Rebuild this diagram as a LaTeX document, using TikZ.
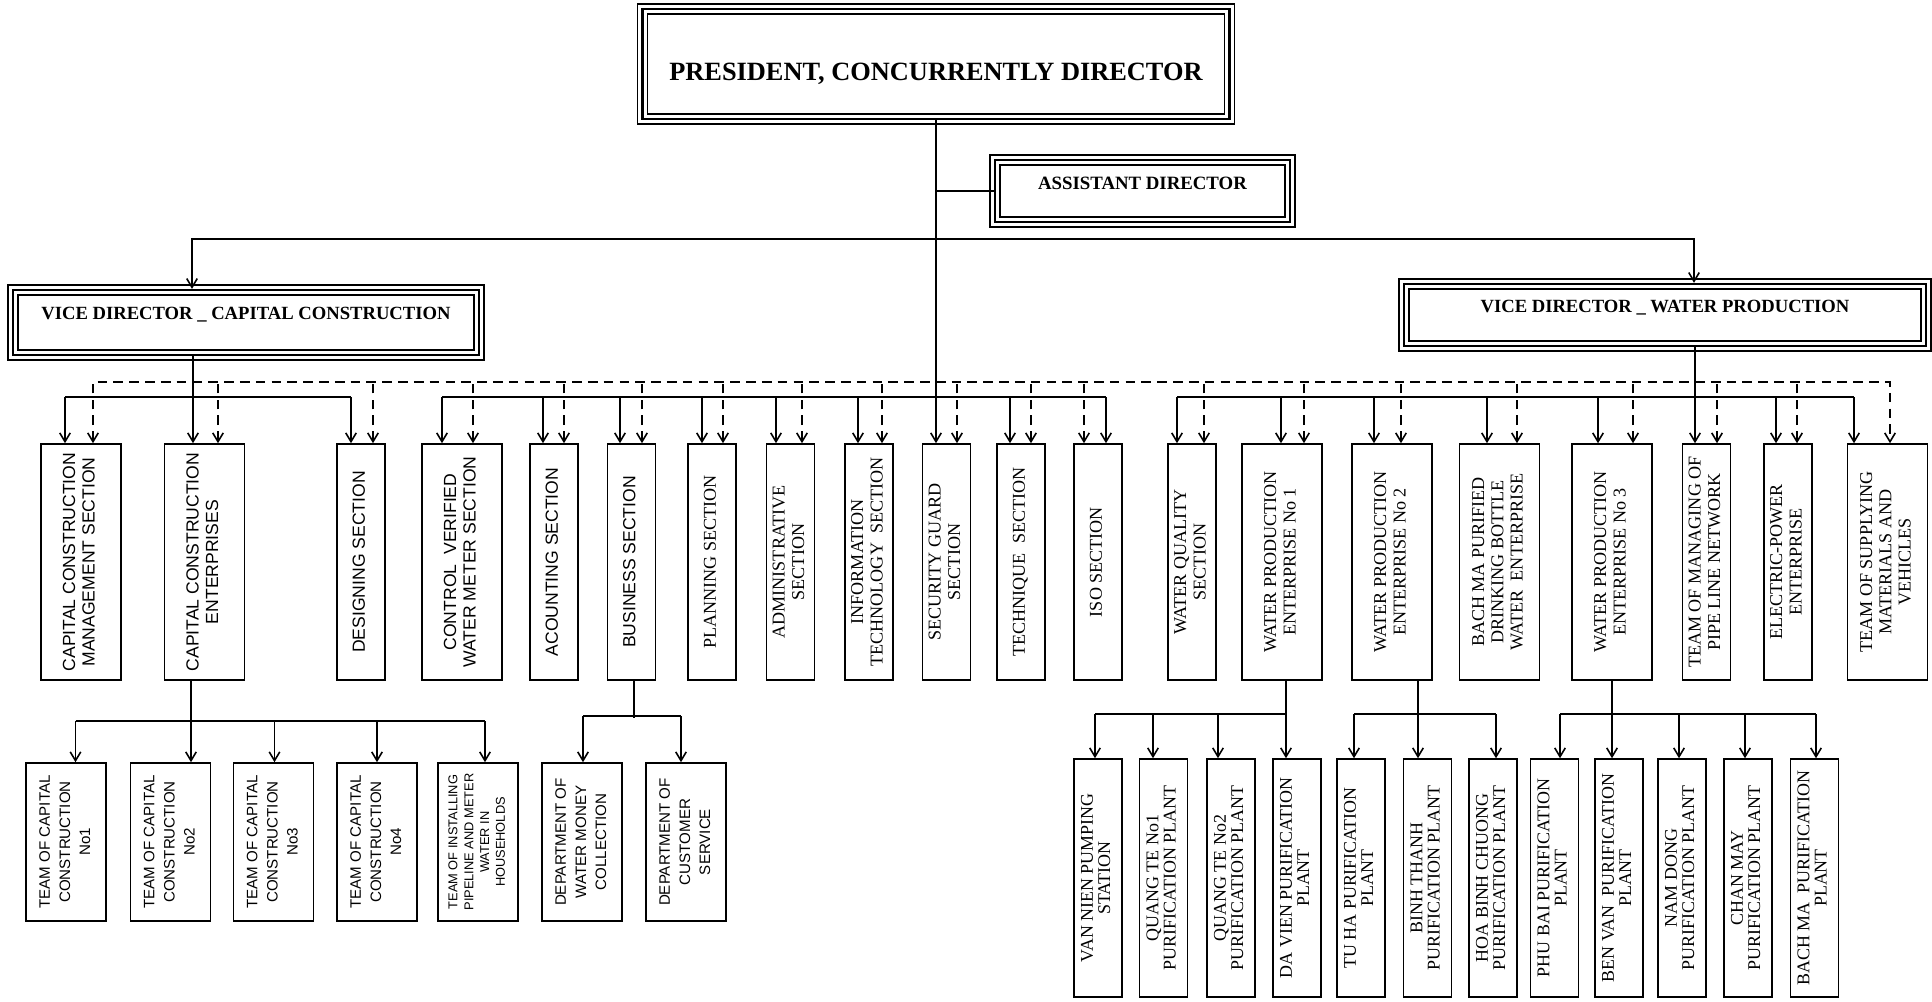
\documentclass[tikz,border=0pt]{standalone}
\usepackage{fontspec}
\setmainfont{Liberation Serif}
\setsansfont{Liberation Sans}
\usepackage{graphicx}
\usetikzlibrary{calc,arrows.meta}
\newcommand{\rottext}[1]{\rotatebox{90}{\begin{tabular}{@{}c@{}}#1\end{tabular}}}
\tikzset{
    headbox/.style ={
        rectangle,
        draw,
        line width=1.3pt,
        preaction={draw, line width=6.5pt},
        preaction={draw=white, line width=5pt},
        inner sep=0pt,
        font=\bfseries
    },
    secbox/.style ={
        rectangle,
        draw,
        line width=0.9pt,
        inner sep=0pt,
        minimum width=9.6mm,
        minimum height=47.2mm
    },
    widebox/.style ={secbox, minimum width=16mm},
    sanstext/.style ={font=\sffamily\fontsize{10}{11}\selectfont},
    seriftext/.style ={font=\fontsize{10.3}{11}\selectfont},
    teambox/.style ={
        rectangle,
        draw,
        line width=0.9pt,
        inner sep=0pt,
        minimum width=16mm,
        minimum height=31.6mm,
        font=\sffamily\fontsize{8.6}{11.4}\selectfont
    },
    plantbox/.style ={
        rectangle,
        draw,
        line width=0.9pt,
        inner sep=0pt,
        minimum width=9.6mm,
        minimum height=47.6mm,
        font=\fontsize{10.2}{9.8}\selectfont
    },
    link/.style ={line width=0.9pt},
    coop/.style ={line width=0.9pt, dash pattern=on 5.5pt off 3.5pt},
    >={Straight Barb[length=5pt,width=6pt]}
}

\begin{document}
\begin{tikzpicture}[x=0.2mm, y=-0.2mm]
    \useasboundingbox (0,0) rectangle (1932,1001);

    % directors
    \node[headbox, minimum width=117.4mm, minimum height=22mm] (pres) at (936,64)
        {\fontsize{15}{18}\selectfont\raisebox{-9.5pt}[0pt][0pt]{PRESIDENT, CONCURRENTLY DIRECTOR}};
    \node[headbox, minimum width=59mm, minimum height=12.4mm] (asst) at (1142.5,191)
        {\fontsize{10.7}{13}\selectfont\raisebox{1pt}[0pt][0pt]{ASSISTANT DIRECTOR}};
    \node[headbox, minimum width=93.2mm, minimum height=13mm] (vdcc) at (246,322.5)
        {\fontsize{10.6}{13}\selectfont\raisebox{1.9pt}[0pt][0pt]{VICE DIRECTOR \_ CAPITAL CONSTRUCTION}};
    \node[headbox, minimum width=104.4mm, minimum height=12.4mm] (vdwp) at (1665,315)
        {\fontsize{10.6}{13}\selectfont\raisebox{1.6pt}[0pt][0pt]{VICE DIRECTOR \_ WATER PRODUCTION}};

    % sections
    \node[widebox, sanstext] (sccm) at (81,562) {\rottext{CAPITAL CONSTRUCTION\\ MANAGEMENT SECTION}};
    \node[widebox, sanstext] (scce) at (204.5,562) {\rottext{CAPITAL CONSTRUCTION\\ ENTERPRISES}};
    \node[secbox, sanstext] (sdes) at (361,562) {\rottext{DESIGNING SECTION}};
    \node[widebox, sanstext] (sctl) at (462,562) {\rottext{CONTROL\ \ VERIFIED\\ WATER METER SECTION}};
    \node[secbox, sanstext] (sacc) at (554,562) {\rottext{ACOUNTING SECTION}};
    \node[secbox, sanstext] (sbus) at (631.5,562) {\rottext{BUSINESS SECTION}};
    \node[secbox, seriftext] (spla) at (712,562) {\rottext{PLANNING SECTION}};
    \node[secbox, seriftext] (sadm) at (790.5,562) {\rottext{ADMINISTRATIVE\\ SECTION}};
    \node[secbox, seriftext] (sit) at (869,562) {\rottext{INFORMATION\\ TECHNOLOGY\ \ SECTION}};
    \node[secbox, seriftext] (ssec) at (946.5,562) {\rottext{SECURITY GUARD\\ SECTION}};
    \node[secbox, seriftext] (stec) at (1021,562) {\rottext{TECHNIQUE\ \ SECTION}};
    \node[secbox, seriftext] (siso) at (1098,562) {\rottext{ISO SECTION}};
    \node[secbox, seriftext] (swq) at (1192,562) {\rottext{WATER QUALITY\\ SECTION}};
    \node[widebox, seriftext] (swp1) at (1282,562) {\rottext{WATER PRODUCTION\\ ENTERPRISE No 1}};
    \node[widebox, seriftext] (swp2) at (1392,562) {\rottext{WATER PRODUCTION\\ ENTERPRISE No 2}};
    \node[widebox, seriftext] (sbot) at (1499.5,562) {\rottext{BACH MA PURIFIED\\ DRINKING BOTTLE\\ WATER\ \ ENTERPRISE}};
    \node[widebox, seriftext] (swp3) at (1612,562) {\rottext{WATER PRODUCTION\\ ENTERPRISE No 3}};
    \node[secbox, seriftext] (spip) at (1706.5,562) {\rottext{TEAM OF MANAGING OF\\ PIPE LINE NETWORK}};
    \node[secbox, seriftext] (sele) at (1788,562) {\rottext{ELECTRIC-POWER\\ ENTERPRISE}};
    \node[widebox, seriftext] (ssup) at (1887.5,562) {\rottext{TEAM OF SUPPLYING\\ MATERIALS AND\\ VEHICLES}};

    % teams and departments
    \node[teambox] (t1) at (66,842) {\rottext{TEAM OF CAPITAL\\ CONSTRUCTION\\ No1}};
    \node[teambox] (t2) at (170.5,842) {\rottext{TEAM OF CAPITAL\\ CONSTRUCTION\\ No2}};
    \node[teambox] (t3) at (273.5,842) {\rottext{TEAM OF CAPITAL\\ CONSTRUCTION\\ No3}};
    \node[teambox] (t4) at (377,842) {\rottext{TEAM OF CAPITAL\\ CONSTRUCTION\\ No4}};
    \node[teambox, font=\sffamily\fontsize{7.3}{9}\selectfont] (t5) at (478,842)
        {\rottext{TEAM OF INSTALLING\\ PIPELINE AND METER\\ WATER IN\\ HOUSEHOLDS}};
    \node[teambox] (d1) at (582,842) {\rottext{DEPARTMENT OF\\ WATER MONEY\\ COLLECTION}};
    \node[teambox] (d2) at (686,842) {\rottext{DEPARTMENT OF\\ CUSTOMER\\ SERVICE}};

    % plants
    \node[plantbox] (p1) at (1098,878) {\rottext{VAN NIEN PUMPING\\ STATION}};
    \node[plantbox] (p2) at (1163.5,878) {\rottext{QUANG TE No1\\ PURIFICATION PLANT}};
    \node[plantbox] (p3) at (1231,878) {\rottext{QUANG TE No2\\ PURIFICATION PLANT}};
    \node[plantbox] (p4) at (1297,878) {\rottext{DA VIEN PURIFICATION\\ PLANT}};
    \node[plantbox] (p5) at (1361,878) {\rottext{TU HA PURIFICATION\\ PLANT}};
    \node[plantbox] (p6) at (1427.5,878) {\rottext{BINH THANH\\ PURIFICATION PLANT}};
    \node[plantbox] (p7) at (1493,878) {\rottext{HOA BINH CHUONG\\ PURIFICATION PLANT}};
    \node[plantbox] (p8) at (1554.5,878) {\rottext{PHU BAI PURIFICATION\\ PLANT}};
    \node[plantbox] (p9) at (1619,878) {\rottext{BEN VAN\ \ PURIFICATION\\ PLANT}};
    \node[plantbox] (p10) at (1682,878) {\rottext{NAM DONG\\ PURIFICATION PLANT}};
    \node[plantbox] (p11) at (1748,878) {\rottext{CHAN MAY\\ PURIFICATION PLANT}};
    \node[plantbox] (p12) at (1814.5,878) {\rottext{BACH MA\ \ PURIFICATION\\ PLANT}};

    % top links
    \coordinate (vbus) at (936,239);
    \draw[link,->] (pres.south) -- ($(ssec.north)+(-10.5,0)$);
    \draw[link] (asst.west) -- (asst.west -| pres.south);
    \draw[link,->] (vbus) -| ($(vdcc.north)+(-54,0)$);
    \draw[link,->] (vbus) -| ($(vdwp.north)+(29,0)$);

    % capital construction
    \draw[link,->] ($(vdcc.south)+(-53,0)$) -- ($(scce.north)+(-11.5,0)$);
    \draw[link] ($(sccm.north)+(-16,-46)$) -- ($(sdes.north)+(-10,-46)$);
    \draw[link,<-] ($(sccm.north)+(-16,0)$) -- ++(0,-46);
    \draw[link,<-] ($(sdes.north)+(-10,0)$) -- ++(0,-46);

    % president's sections
    \draw[link] ($(sctl.north)+(-20,-46)$) -- ($(siso.north)+(8,-46)$);
    \draw[link,<-] ($(sctl.north)+(-20,0)$) -- ++(0,-46);
    \draw[link,<-] ($(sacc.north)+(-11,0)$) -- ++(0,-46);
    \draw[link,<-] ($(sbus.north)+(-11.5,0)$) -- ++(0,-46);
    \draw[link,<-] ($(spla.north)+(-10,0)$) -- ++(0,-46);
    \draw[link,<-] ($(sadm.north)+(-14.5,0)$) -- ++(0,-46);
    \draw[link,<-] ($(sit.north)+(-11,0)$) -- ++(0,-46);
    \draw[link,<-] ($(stec.north)+(-11,0)$) -- ++(0,-46);
    \draw[link,<-] ($(siso.north)+(8,0)$) -- ++(0,-46);

    % water production
    \draw[link,->] ($(vdwp.south)+(30,0)$) -- ($(spip.north)+(-11.5,0)$);
    \draw[link] ($(swq.north)+(-15,-46)$) -- ($(ssup.north)+(-33.5,-46)$);
    \draw[link,<-] ($(swq.north)+(-15,0)$) -- ++(0,-46);
    \draw[link,<-] ($(swp1.north)+(-1,0)$) -- ++(0,-46);
    \draw[link,<-] ($(swp2.north)+(-18,0)$) -- ++(0,-46);
    \draw[link,<-] ($(sbot.north)+(-12.5,0)$) -- ++(0,-46);
    \draw[link,<-] ($(swp3.north)+(-14,0)$) -- ++(0,-46);
    \draw[link,<-] ($(sele.north)+(-12,0)$) -- ++(0,-46);
    \draw[link,<-] ($(ssup.north)+(-33.5,0)$) -- ++(0,-46);

    % dashed links
    \draw[coop,<->] ($(sccm.north)+(12,0)$) -- ++(0,-61) -- ($(ssup.north)+(2.5,-61)$) -- ($(ssup.north)+(2.5,0)$);
    \draw[coop,<-] ($(scce.north)+(13.5,0)$) -- ++(0,-61);
    \draw[coop,<-] ($(sdes.north)+(12,0)$) -- ++(0,-61);
    \draw[coop,<-] ($(sctl.north)+(11,0)$) -- ++(0,-61);
    \draw[coop,<-] ($(sacc.north)+(10,0)$) -- ++(0,-61);
    \draw[coop,<-] ($(sbus.north)+(10.5,0)$) -- ++(0,-61);
    \draw[coop,<-] ($(spla.north)+(11,0)$) -- ++(0,-61);
    \draw[coop,<-] ($(sadm.north)+(11.5,0)$) -- ++(0,-61);
    \draw[coop,<-] ($(sit.north)+(13,0)$) -- ++(0,-61);
    \draw[coop,<-] ($(ssec.north)+(10.5,0)$) -- ++(0,-61);
    \draw[coop,<-] ($(stec.north)+(10,0)$) -- ++(0,-61);
    \draw[coop,<-] ($(siso.north)+(-14,0)$) -- ++(0,-61);
    \draw[coop,<-] ($(swq.north)+(12,0)$) -- ++(0,-61);
    \draw[coop,<-] ($(swp1.north)+(22,0)$) -- ++(0,-61);
    \draw[coop,<-] ($(swp2.north)+(9,0)$) -- ++(0,-61);
    \draw[coop,<-] ($(sbot.north)+(17.5,0)$) -- ++(0,-61);
    \draw[coop,<-] ($(swp3.north)+(21,0)$) -- ++(0,-61);
    \draw[coop,<-] ($(spip.north)+(10.5,0)$) -- ++(0,-61);
    \draw[coop,<-] ($(sele.north)+(9,0)$) -- ++(0,-61);

    % teams
    \draw[link,->] ($(scce.south)+(-13.5,0)$) -- ($(t2.north)+(20.5,0)$);
    \draw[link] ($(t1.north)+(9.5,-41)$) -- ($(t5.north)+(7,-41)$);
    \draw[link,<-] ($(t1.north)+(9.5,0)$) -- ++(0,-41);
    \draw[link,<-] ($(t3.north)+(1,0)$) -- ++(0,-41);
    \draw[link,<-] (t4.north) -- ++(0,-41);
    \draw[link,<-] ($(t5.north)+(7,0)$) -- ++(0,-41);

    % departments
    \draw[link] ($(sbus.south)+(2.5,0)$) -- ++(0,37);
    \draw[link] ($(d1.north)+(1,-46)$) -- ($(d2.north)+(-5,-46)$);
    \draw[link,<-] ($(d1.north)+(1,0)$) -- ++(0,-46);
    \draw[link,<-] ($(d2.north)+(-5,0)$) -- ++(0,-46);

    % plants
    \draw[link,->] ($(swp1.south)+(4,0)$) -- ($(p4.north)+(-11,0)$);
    \draw[link] ($(p1.north)+(-3,-44)$) -- ($(p4.north)+(-11,-44)$);
    \draw[link,<-] ($(p1.north)+(-3,0)$) -- ++(0,-44);
    \draw[link,<-] ($(p2.north)+(-10.5,0)$) -- ++(0,-44);
    \draw[link,<-] ($(p3.north)+(-13,0)$) -- ++(0,-44);

    \draw[link,->] ($(swp2.south)+(26,0)$) -- ($(p6.north)+(-9.5,0)$);
    \draw[link] ($(p5.north)+(-7,-44)$) -- ($(p7.north)+(3,-44)$);
    \draw[link,<-] ($(p5.north)+(-7,0)$) -- ++(0,-44);
    \draw[link,<-] ($(p7.north)+(3,0)$) -- ++(0,-44);

    \draw[link,->] (swp3.south) -- ($(p9.north)+(-7,0)$);
    \draw[link] ($(p8.north)+(5.5,-44)$) -- ($(p12.north)+(1.5,-44)$);
    \draw[link,<-] ($(p8.north)+(5.5,0)$) -- ++(0,-44);
    \draw[link,<-] ($(p10.north)+(-3,0)$) -- ++(0,-44);
    \draw[link,<-] ($(p11.north)+(-3,0)$) -- ++(0,-44);
    \draw[link,<-] ($(p12.north)+(1.5,0)$) -- ++(0,-44);
\end{tikzpicture}
\end{document}
